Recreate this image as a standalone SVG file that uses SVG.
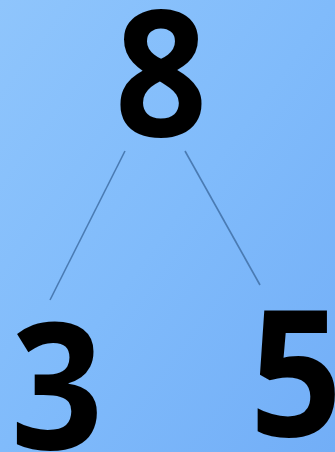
<svg xmlns="http://www.w3.org/2000/svg" width="335" height="452" viewBox="0 0 335 452">
<defs>
<linearGradient id="bg" x1="0" y1="0" x2="1" y2="1">
<stop offset="0" stop-color="#8fc5fc"/>
<stop offset="0.5" stop-color="#80bbfb"/>
<stop offset="1" stop-color="#72aef7"/>
</linearGradient>
</defs>
<style>
.num{font-family:"Open Sans","Noto Sans",sans-serif;font-weight:bold;font-size:176px;fill:#000;text-anchor:middle}
.edge{stroke:#4a7bb3;stroke-width:1.6;fill:none}
</style>
<rect x="0" y="0" width="335" height="452" fill="url(#bg)"/>
<g id="connectors">
<line class="edge" x1="125" y1="151" x2="50" y2="300"/>
<line class="edge" x1="185" y1="151" x2="260" y2="285"/>
</g>
<g id="node-8"><text class="num" transform="translate(161,136) scale(0.92,1)">8</text></g>
<g id="node-3"><text class="num" transform="translate(57,449) scale(0.92,1)">3</text></g>
<g id="node-5"><text class="num" transform="translate(296,436) scale(0.92,1)">5</text></g>
</svg>
